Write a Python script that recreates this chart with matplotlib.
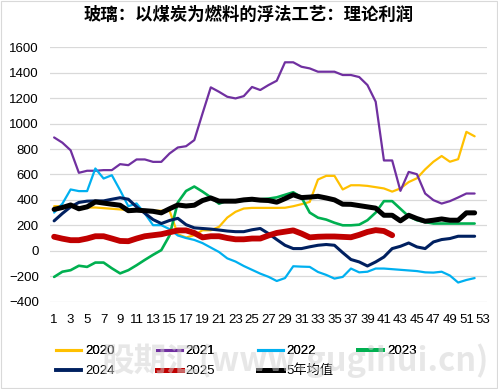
import matplotlib
matplotlib.use("Agg")
import matplotlib.pyplot as plt
from matplotlib.lines import Line2D
from matplotlib.patches import Rectangle

plt.rcParams['font.family'] = ['Liberation Sans', 'Noto Sans CJK SC', 'DejaVu Sans']

title = "玻璃：以煤炭为燃料的浮法工艺：理论利润"

y2020 = [350, 350, 345, 340, 340, 340, 335, 330, 325, 320, 320, 320, 315, 315, 315,
         130, 104, 122, 161, 161, 188, 261, 306, 332, 337, 337, 337, 337, 338, 350,
         366, 384, 560, 589, 589, 482, 515, 515, 510, 500, 490, 465, 490, 540, 570,
         640, 700, 745, 700, 720, 935, 900]
y2021 = [891, 850, 790, 613, 629, 629, 634, 634, 681, 673, 718, 718, 699, 699, 765,
         812, 822, 870, 1080, 1285, 1250, 1211, 1198, 1216, 1288, 1264, 1303, 1337, 1482, 1482,
         1447, 1434, 1408, 1408, 1408, 1382, 1382, 1366, 1303, 1172, 710, 710, 471, 620, 602,
         450, 398, 371, 390, 419, 450, 450]
y2022 = [300, 370, 482, 469, 469, 647, 568, 594, 476, 350, 372, 293, 201, 201, 170,
         120, 100, 85, 60, 25, -10, -60, -85, -120, -150, -180, -205, -238, -215, -122,
         -125, -127, -167, -190, -219, -206, -140, -170, -165, -140, -140, -145, -150, -155, -160,
         -170, -172, -165, -195, -250, -230, -215]
y2023 = [-206, -165, -153, -118, -127, -93, -93, -138, -178, -153, -114, -72, -32, 5, 120,
         380, 470, 505, 465, 420, 370, 395, 395, 400, 400, 405, 410, 420, 440, 460,
         420, 300, 260, 245, 220, 200, 200, 205, 240, 300, 390, 390, 330, 270, 240,
         225, 214, 214, 214, 214, 214, 214]
y2024 = [235, 293, 345, 380, 390, 392, 392, 405, 417, 405, 345, 295, 245, 214, 238,
         255, 205, 180, 175, 170, 163, 155, 150, 150, 165, 175, 135, 88, 43, 17,
         17, 31, 43, 49, 43, -15, -69, -88, -120, -88, -49, 17, 35, 61, 30,
         17, 69, 88, 96, 114, 114, 114]
y2025 = [110, 95, 83, 83, 96, 114, 114, 96, 77, 75, 96, 114, 122, 130, 145,
         160, 160, 140, 105, 114, 114, 100, 90, 90, 96, 96, 120, 140, 150, 160,
         135, 105, 110, 112, 112, 109, 106, 125, 148, 162, 155, 122]
y5avg = [325, 340, 360, 330, 345, 384, 375, 366, 358, 315, 319, 315, 310, 298, 330,
         360, 352, 358, 395, 415, 390, 390, 390, 400, 405, 398, 395, 382, 410, 440,
         418, 422, 428, 415, 400, 366, 365, 355, 345, 335, 279, 279, 235, 279, 253,
         232, 240, 250, 240, 240, 298, 298]

series = [
    ("2020", y2020, "#FFC000", 1.6, 2.2),
    ("2021", y2021, "#7030A0", 1.6, 2.2),
    ("2022", y2022, "#00B0F0", 1.6, 2.2),
    ("2023", y2023, "#00B050", 1.9, 2.8),
    ("2024", y2024, "#002060", 2.2, 2.8),
    ("2025", y2025, "#C00000", 4.2, 3.6),
    ("5年均值", y5avg, "#000000", 3.6, 3.6),
]

fig = plt.figure(figsize=(4.98, 3.89), dpi=100)
ax = fig.add_axes([50/498, 1 - 301.6/389, 437/498, (301.6 - 47.3)/389])

handles = []
for name, vals, color, lw, llw in series:
    weeks = list(range(1, len(vals) + 1))
    ax.plot(weeks, vals, color=color, lw=lw, solid_capstyle='round', solid_joinstyle='round')
    handles.append(Line2D([0], [0], color=color, lw=llw))

ax.set_xlim(0.5, 53.5)
ax.set_ylim(-400, 1600)
ax.set_yticks(range(-400, 1601, 200))
ax.set_xticks(range(1, 54, 2))
ax.tick_params(axis='both', length=0, labelsize=9.5, colors='#000000')
ax.tick_params(axis='x', pad=9)
ax.tick_params(axis='y', pad=8)
ax.grid(axis='y', color='#D9D9D9', lw=0.9)
ax.set_axisbelow(True)
for s in ax.spines.values():
    s.set_visible(False)

fig.text(0.5, 1 - 15/389, title, ha='center', va='center', fontsize=12.5, fontweight='bold',
         family=['Noto Sans CJK SC', 'DejaVu Sans'])

legkw = dict(loc='center left', ncol=4, frameon=False, handlelength=1.9, handletextpad=0.3,
             columnspacing=3.2, borderaxespad=0, borderpad=0,
             prop={'family': ['Liberation Sans', 'Noto Sans CJK SC'], 'size': 9.5})
labels = [s[0] for s in series]
leg1 = fig.legend(handles[:4], labels[:4], bbox_to_anchor=(56/498, 1 - 351/389), **legkw)
fig.add_artist(leg1)
leg2 = fig.legend(handles[4:], labels[4:], bbox_to_anchor=(56/498, 1 - 371/389), **legkw)

fig.text(295/498, 1 - 361/389, "股期汇(www.gugihui.cn)", ha='center', va='center', fontsize=23.5,
         fontweight='bold', style='italic', color='#D0D0D0', alpha=0.5,
         family=['Noto Sans CJK SC', 'DejaVu Sans'], zorder=10)

fig.patches.append(Rectangle((0.002, 0.002), 0.996, 0.996, transform=fig.transFigure,
                             fill=False, edgecolor='#D9D9D9', lw=0.8))

fig.savefig("out.png", dpi=100)
